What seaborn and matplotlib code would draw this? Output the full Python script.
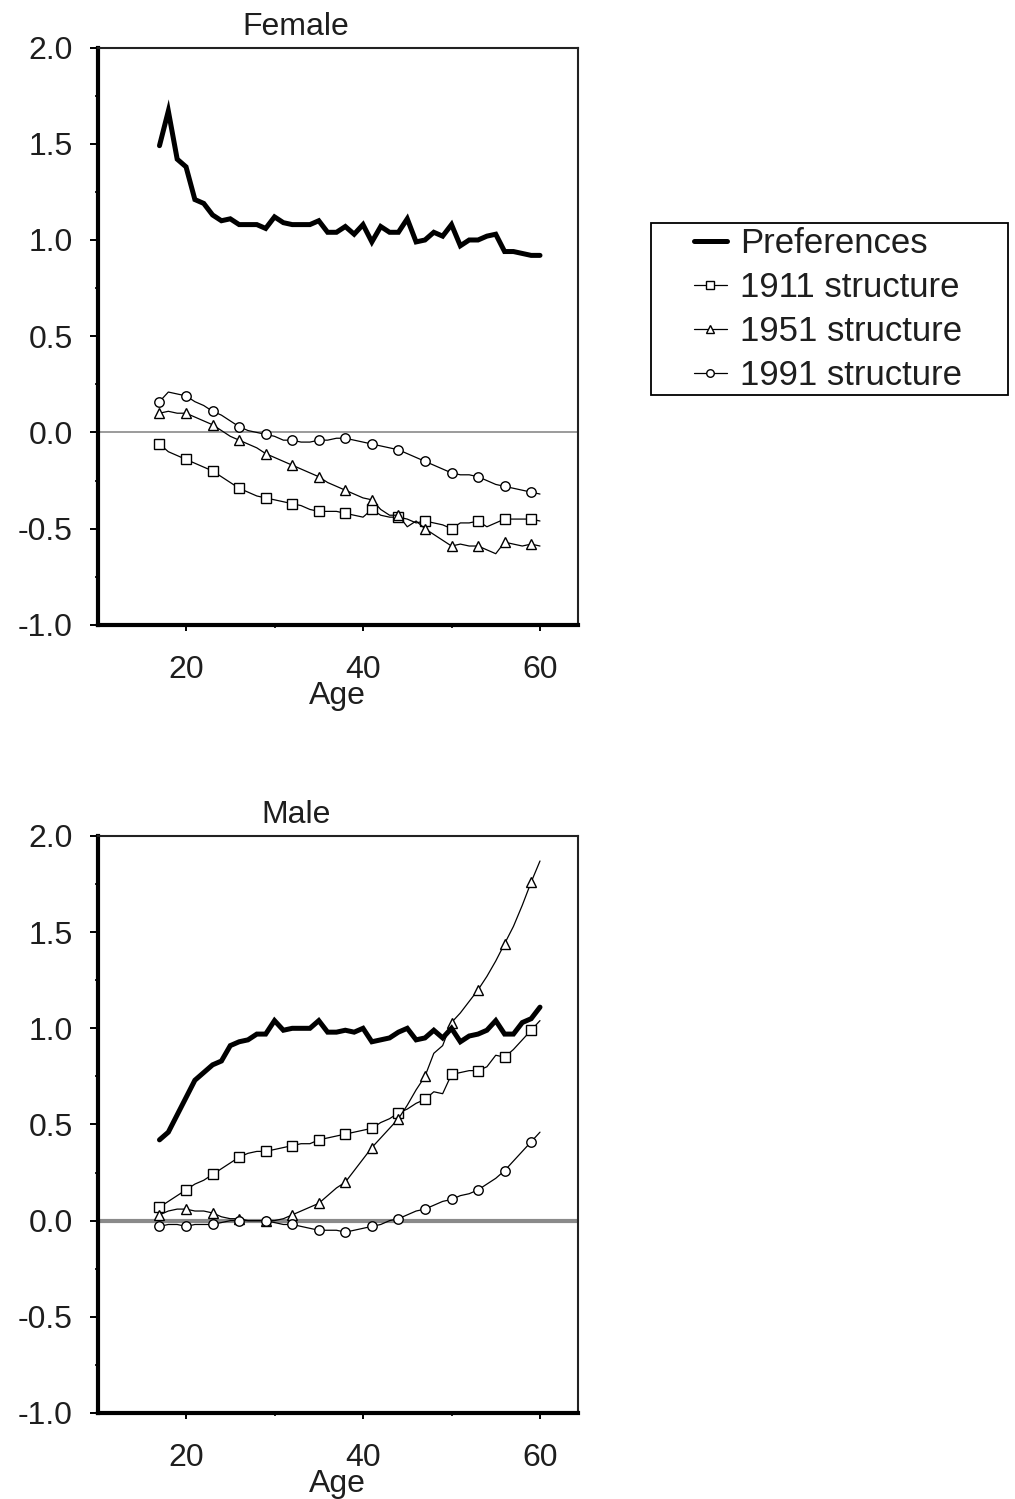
import numpy as np
import pandas as pd
import seaborn as sns
import matplotlib
matplotlib.use("Agg")
import matplotlib.pyplot as plt
from matplotlib.ticker import MultipleLocator, FixedLocator, FormatStrFormatter
from matplotlib.patches import Rectangle

# ---------------- data ----------------
ages = list(range(17, 61))

female_pref = [1.49, 1.67, 1.42, 1.38, 1.21, 1.19, 1.13, 1.10, 1.11, 1.08, 1.08, 1.08, 1.06, 1.12,
               1.09, 1.08, 1.08, 1.08, 1.10, 1.04, 1.04, 1.07, 1.03, 1.08, 0.99, 1.07, 1.04, 1.04,
               1.11, 0.99, 1.00, 1.04, 1.02, 1.08, 0.97, 1.00, 1.00, 1.02, 1.03, 0.94, 0.94, 0.93,
               0.92, 0.92]
female_1911 = [-0.06, -0.10, -0.12, -0.14, -0.16, -0.18, -0.20, -0.23, -0.26, -0.29, -0.31, -0.33,
               -0.34, -0.35, -0.36, -0.37, -0.38, -0.40, -0.41, -0.41, -0.41, -0.42, -0.43, -0.44,
               -0.40, -0.43, -0.44, -0.44, -0.45, -0.47, -0.46, -0.47, -0.48, -0.50, -0.47, -0.47,
               -0.46, -0.49, -0.47, -0.45, -0.45, -0.45, -0.45, -0.46]
female_1951 = [0.10, 0.11, 0.10, 0.10, 0.08, 0.06, 0.04, 0.01, -0.02, -0.04, -0.06, -0.08, -0.11,
               -0.13, -0.15, -0.17, -0.19, -0.21, -0.23, -0.26, -0.28, -0.30, -0.32, -0.34, -0.35,
               -0.40, -0.43, -0.43, -0.49, -0.46, -0.50, -0.53, -0.56, -0.59, -0.58, -0.59, -0.59,
               -0.61, -0.63, -0.57, -0.58, -0.59, -0.58, -0.59]
female_1991 = [0.16, 0.21, 0.20, 0.19, 0.16, 0.14, 0.11, 0.09, 0.06, 0.03, 0.01, 0.00, -0.01, -0.02,
               -0.04, -0.04, -0.05, -0.05, -0.04, -0.04, -0.03, -0.03, -0.04, -0.05, -0.06, -0.07,
               -0.08, -0.09, -0.11, -0.13, -0.15, -0.17, -0.19, -0.21, -0.22, -0.22, -0.23, -0.25,
               -0.27, -0.28, -0.29, -0.30, -0.31, -0.32]

male_pref = [0.42, 0.46, 0.55, 0.64, 0.73, 0.77, 0.81, 0.83, 0.91, 0.93, 0.94, 0.97, 0.97, 1.04,
             0.99, 1.00, 1.00, 1.00, 1.04, 0.98, 0.98, 0.99, 0.98, 1.00, 0.93, 0.94, 0.95, 0.98,
             1.00, 0.94, 0.95, 0.99, 0.95, 1.00, 0.93, 0.96, 0.97, 0.99, 1.04, 0.97, 0.97, 1.03,
             1.05, 1.11]
male_1911 = [0.07, 0.10, 0.13, 0.16, 0.19, 0.21, 0.24, 0.27, 0.30, 0.33, 0.35, 0.36, 0.36, 0.37,
             0.38, 0.39, 0.40, 0.40, 0.42, 0.43, 0.44, 0.45, 0.46, 0.47, 0.48, 0.51, 0.53, 0.56,
             0.58, 0.61, 0.63, 0.67, 0.66, 0.76, 0.77, 0.78, 0.78, 0.80, 0.86, 0.85, 0.89, 0.94,
             0.99, 1.04]
male_1951 = [0.03, 0.05, 0.06, 0.06, 0.05, 0.05, 0.04, 0.02, 0.01, 0.01, 0.00, 0.00, 0.00, 0.00,
             0.01, 0.03, 0.05, 0.07, 0.09, 0.13, 0.17, 0.20, 0.26, 0.32, 0.38, 0.43, 0.48, 0.53,
             0.60, 0.68, 0.75, 0.87, 0.91, 1.03, 1.08, 1.14, 1.20, 1.27, 1.35, 1.44, 1.53, 1.64,
             1.76, 1.87]
male_1991 = [-0.03, -0.02, -0.02, -0.03, -0.02, -0.02, -0.02, -0.01, 0.00, 0.00, 0.00, 0.00, 0.00,
             -0.01, -0.02, -0.02, -0.03, -0.04, -0.05, -0.05, -0.05, -0.06, -0.05, -0.04, -0.03,
             -0.02, 0.00, 0.01, 0.03, 0.05, 0.06, 0.08, 0.10, 0.11, 0.13, 0.14, 0.16, 0.19, 0.22,
             0.26, 0.31, 0.36, 0.41, 0.46]

series_labels = ["Preferences", "1911 structure", "1951 structure", "1991 structure"]
panel_titles = ["Female", "Male"]
x_label = "Age"
x_major_ticks = [20, 40, 60]
x_minor_ticks = [30, 50]

# ---------------- style ----------------
sns.set_theme(style="ticks")
plt.rcParams["font.family"] = ["Liberation Sans", "DejaVu Sans"]
plt.rcParams["axes.unicode_minus"] = False
TXT = "#1e1e1e"
FS = 23
LEG_FS = 25

fig = plt.figure(figsize=(10.15, 14.99), dpi=100)
fig.patch.set_facecolor("white")

ax_f = fig.add_axes([0.0961, 0.5831, 0.4734, 0.3852])
ax_m = fig.add_axes([0.0961, 0.0574, 0.4734, 0.3849])

markers = [None, "s", "^", "o"]
msizes = [0, 6.5, 7.0, 6.8]


def draw_panel(ax, title, pref, s1911, s1951, s1991, zero_lw):
    ax.axhline(0, color="#8a8a8a", lw=zero_lw, zorder=1)
    sns.lineplot(x=ages, y=pref, ax=ax, color="black", lw=3.6, label=series_labels[0],
                 legend=False, errorbar=None, zorder=4,
                 solid_joinstyle="miter")
    for vals, lab, mk, ms in zip([s1911, s1951, s1991], series_labels[1:], markers[1:], msizes[1:]):
        sns.lineplot(x=ages, y=vals, ax=ax, color="black", lw=0.9, label=lab, legend=False,
                     errorbar=None, marker=mk, markevery=3, markersize=ms,
                     markerfacecolor="white", markeredgecolor="black", markeredgewidth=1.0,
                     zorder=3)
    if ax.get_legend() is not None:
        ax.get_legend().remove()
    ax.set_xlim(10, 64.3)
    ax.set_ylim(-1.0, 2.0)
    ax.xaxis.set_major_locator(FixedLocator(x_major_ticks))
    ax.xaxis.set_minor_locator(FixedLocator(x_minor_ticks))
    ax.yaxis.set_major_locator(MultipleLocator(0.5))
    ax.yaxis.set_minor_locator(MultipleLocator(0.25))
    ax.yaxis.set_major_formatter(FormatStrFormatter("%.1f"))
    ax.tick_params(axis="y", which="major", direction="out", length=6, width=1.4, pad=12,
                   labelsize=FS, labelcolor=TXT, color="black")
    ax.tick_params(axis="y", which="minor", direction="out", length=2.5, width=1.2, color="black")
    ax.tick_params(axis="x", which="major", direction="out", length=4.5, width=1.4, pad=17,
                   labelsize=FS, labelcolor=TXT, color="black")
    ax.tick_params(axis="x", which="minor", direction="out", length=2, width=1.2, color="black")
    for side in ["left", "bottom"]:
        ax.spines[side].set_linewidth(3.0)
        ax.spines[side].set_color("black")
    for side in ["top", "right"]:
        ax.spines[side].set_linewidth(1.5)
        ax.spines[side].set_color("#222222")
    ax.set_xlabel(x_label, fontsize=FS, color=TXT, labelpad=-3)
    ax.set_ylabel("")
    ax.set_title(title, fontsize=FS, color=TXT, x=0.413, pad=9)
    ax.set_facecolor("white")
    ax.grid(False)


draw_panel(ax_f, panel_titles[0], female_pref, female_1911, female_1951, female_1991, 1.2)
draw_panel(ax_m, panel_titles[1], male_pref, male_1911, male_1951, male_1991, 3.0)

handles, labels = ax_f.get_legend_handles_labels()
leg = fig.legend(handles, labels, loc="upper left", bbox_to_anchor=(0.6837, 0.8485),
                 frameon=False, fontsize=LEG_FS, borderpad=0, borderaxespad=0,
                 handlelength=0.95, handletextpad=0.38, labelspacing=0.32, markerscale=0.8,
                 numpoints=1)
for t in leg.get_texts():
    t.set_color(TXT)

fig.add_artist(Rectangle((651 / 1015, 1 - 395 / 1499), (1008 - 651) / 1015, (395 - 223) / 1499,
                         transform=fig.transFigure, fill=False, lw=1.3, ec="black"))

fig.savefig("out.png", dpi=100, facecolor="white")
